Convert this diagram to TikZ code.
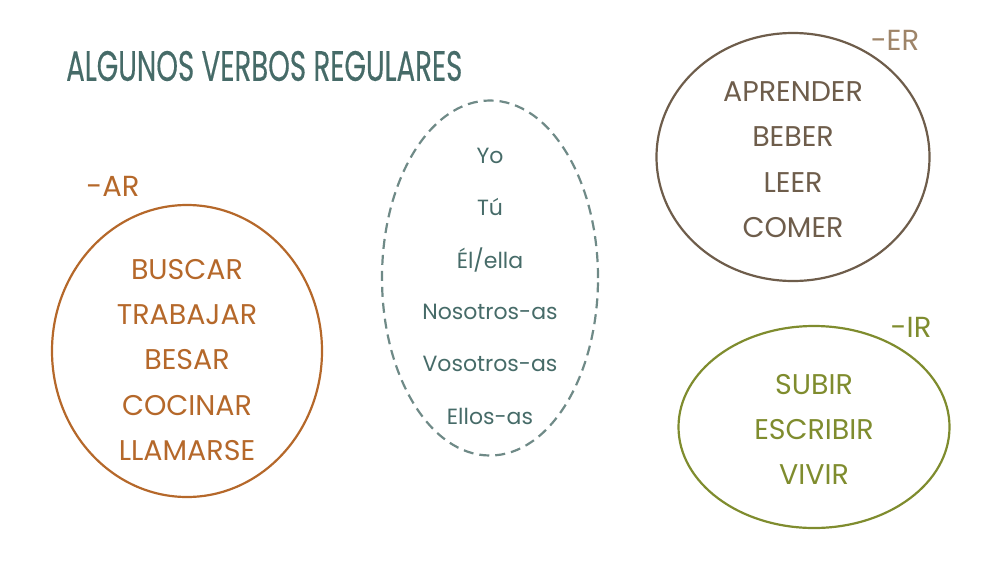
\documentclass[tikz,border=0pt]{standalone}
\usepackage{fontspec}
\setmainfont{Poppins}
\newfontfamily\titlefont[FakeStretch=0.65,FakeBold=0.3]{Poppins}
\usetikzlibrary{shapes.geometric}
\definecolor{teal}{HTML}{466B68}
\definecolor{dashc}{HTML}{6F8A87}
\definecolor{arc}{HTML}{B5682A}
\definecolor{erc}{HTML}{6E5D4B}
\definecolor{erl}{HTML}{9E8468}
\definecolor{irc}{HTML}{7F8C2E}
\tikzset{
  oval/.style={draw, ellipse, line width=2.2pt, inner sep=0pt},
  word/.style={font=\fontsize{28.5}{28.5}\selectfont, inner sep=0pt, anchor=center},
  pron/.style={font=\fontsize{22}{22}\selectfont, inner sep=0pt, anchor=center, text=teal},
  tag/.style={font=\fontsize{29}{29}\selectfont, inner sep=0pt, anchor=center},
}
\begin{document}
\begin{tikzpicture}[x=1pt,y=-1pt]
\useasboundingbox (0,0) rectangle (1000,562);
% title
\node[inner sep=0pt, anchor=west, text=teal, font=\titlefont\fontsize{42.5}{42.5}\selectfont] (title) at (66,66) {ALGUNOS VERBOS REGULARES};
% ellipses
\node[oval, draw=arc, minimum width=270pt, minimum height=292pt] (ar) at (187,351) {};
\node[oval, draw=dashc, dashed, dash pattern=on 10pt off 6pt, minimum width=216pt, minimum height=355pt] (pr) at (490,278) {};
\node[oval, draw=erc, minimum width=273pt, minimum height=248pt] (er) at (793,157) {};
\node[oval, draw=irc, minimum width=271pt, minimum height=202pt] (ir) at (814,427) {};
% tags
\node[tag, text=arc] (tar) at (113,186) {-AR};
\node[tag, text=erl] (ter) at (895,40) {-ER};
\node[tag, text=irc] (tir) at (911,327) {-IR};
% AR words
\begin{scope}[every node/.style={word, text=arc}]
\node (a1) at (187,270) {BUSCAR};
\node (a2) at (187,315) {TRABAJAR};
\node (a3) at (187,360) {BESAR};
\node (a4) at (187,406) {COCINAR};
\node (a5) at (187,451) {LLAMARSE};
\end{scope}
% pronouns
\begin{scope}[every node/.style={pron}]
\node (p1) at (490,156) {Yo};
\node (p2) at (490,207) {Tú};
\node (p3) at (490,260) {Él/ella};
\node (p4) at (490,312) {Nosotros-as};
\node (p5) at (490,364) {Vosotros-as};
\node (p6) at (490,416) {Ellos-as};
\end{scope}
% ER words
\begin{scope}[every node/.style={word, text=erc}]
\node (e1) at (793,92) {APRENDER};
\node (e2) at (793,137) {BEBER};
\node (e3) at (793,183) {LEER};
\node (e4) at (793,228) {COMER};
\end{scope}
% IR words
\begin{scope}[every node/.style={word, text=irc}]
\node (i1) at (814,385) {SUBIR};
\node (i2) at (814,430) {ESCRIBIR};
\node (i3) at (814,475) {VIVIR};
\end{scope}
\end{tikzpicture}
\end{document}
